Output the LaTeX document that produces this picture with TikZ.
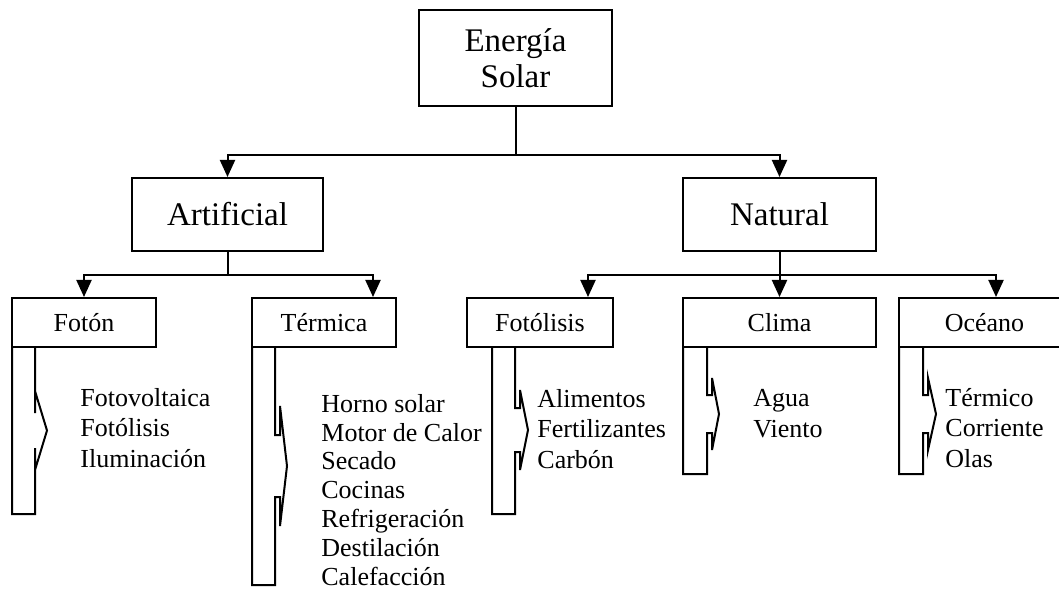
\documentclass[tikz,border=0pt]{standalone}
\usepackage{fontspec}
\setmainfont{Liberation Serif}
\usepackage{tikz}
\usetikzlibrary{arrows.meta,positioning,calc}
% #1 left x, #2 right x, #3 bottom y, #4 jog, #5/#6 hook ends, #7 hook length, #8 tip x
\newcommand{\bracestem}[8]{%
  \draw[stemline] (#2,347) -- (#2,#5) -- ({#2+#4},#5) -- ({#2+#4},{#5-#7})
    -- (#8,{(#5+#6)/2}) -- ({#2+#4},{#6+#7}) -- ({#2+#4},#6) -- (#2,#6)
    -- (#2,#3) -- (#1,#3) -- (#1,347);}

\begin{document}
\begin{tikzpicture}[
      x=0.5pt, y=-0.5pt,
      bigbox/.style={draw, line width=1pt, align=center, inner sep=0pt,
                  font=\fontsize{16.5}{18}\selectfont},
      catbox/.style={draw, line width=1pt, inner sep=0pt, minimum height=24.5pt,
                  font=\fontsize{13}{15.5}\selectfont},
      itemlist/.style={anchor=base west, align=left, inner sep=0pt,
                  font=\fontsize{13}{15.25}\selectfont},
      stemline/.style={line width=1pt},
      arrow/.style={-{Triangle[length=8.5pt,width=7.5pt]}, line width=1pt}
    ]
      \clip (0,0) rectangle (1059,598);
      \node[bigbox, minimum width=96.5pt, minimum height=48pt] (solar) at (515.5,58) {Energía\\Solar};
      \node[bigbox, minimum width=95.5pt, minimum height=36.5pt] (artificial) at (227.5,214.5) {Artificial};
      \node[bigbox, minimum width=96.5pt, minimum height=36.5pt] (natural) at (779.5,214.5) {Natural};

      \node[catbox, minimum width=72pt] (foton) at (84,322.5) {Fotón};
      \node[catbox, minimum width=72pt] (termica) at (324,322.5) {Térmica};
      \node[catbox, minimum width=73pt] (fotolisis) at (540,322.5) {Fotólisis};
      \node[catbox, minimum width=96.5pt] (clima) at (779.5,322.5) {Clima};
      \node[catbox, minimum width=85.5pt] (oceano) at (984.5,322.5) {Océano};

      \bracestem{12}{35}{514}{0}{413}{448}{22}{47}
      \bracestem{252}{275}{585}{5}{435}{497}{29}{287}
      \bracestem{492}{515}{514}{5}{408}{452}{18}{528}
      \bracestem{683}{707}{474}{5}{395}{433}{17}{719}
      \bracestem{899}{923}{474}{5}{395}{433}{17}{936}

      \node[itemlist] (fotonlist) at (80,467) {Fotovoltaica\\Fotólisis\\Iluminación};
      \node[itemlist, font=\fontsize{13}{14.4}\selectfont] (termicalist) at (321,585)
        {Horno solar\\Motor de Calor\\Secado\\Cocinas\\Refrigeración\\Destilación\\Calefacción};
      \node[itemlist] (fotolisislist) at (537,468) {Alimentos\\Fertilizantes\\Carbón};
      \node[itemlist] (climalist) at (753,437) {Agua\\Viento};
      \node[itemlist] (oceanolist) at (945,467) {Térmico\\Corriente\\Olas};

      \draw[arrow] (solar.south) -- ++(0,48) -| (artificial.north);
      \draw[arrow] (solar.south) -- ++(0,48) -| (natural.north);
      \draw[arrow] (artificial.south) -- ++(0,23) -| (foton.north);
      \draw[arrow] (artificial.south) -- ++(0,23) -| ($(termica.north)+(49,0)$);
      \draw[arrow] (natural.south) -- ++(0,23) -| ($(fotolisis.north)+(48,0)$);
      \draw[arrow] (natural.south) -- (clima.north);
      \draw[arrow] (natural.south) -- ++(0,23) -| ($(oceano.north)+(11.5,0)$);
    \end{tikzpicture}
\end{document}
